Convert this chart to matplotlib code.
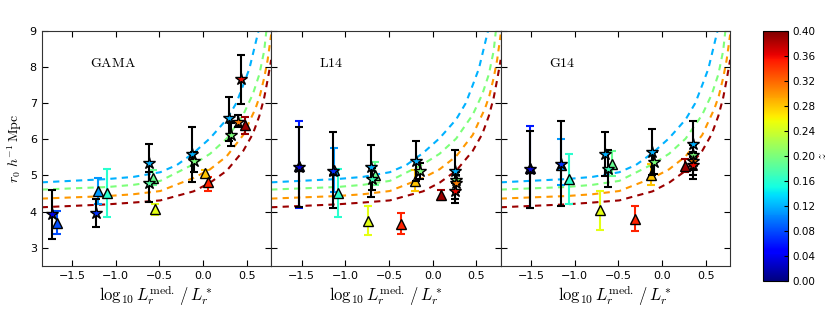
import numpy as np
import matplotlib
matplotlib.use("Agg")
import matplotlib.pyplot as plt
from matplotlib import cm, colors

plt.rcParams['mathtext.fontset'] = 'cm'
plt.rcParams['font.size'] = 8

# model curves, one per redshift
curve_z = [0.12, 0.20, 0.30, 0.39]
curve_x = [
    [-1.85, -1.1, -0.8, -0.49, -0.3, -0.11, 0.08, 0.27, 0.38, 0.46, 0.53, 0.59, 0.635],
    [-1.85, -1.1, -0.8, -0.49, -0.11, 0.08, 0.27, 0.46, 0.57, 0.645, 0.70, 0.725],
    [-1.85, -1.1, -0.8, -0.49, -0.11, 0.08, 0.27, 0.46, 0.6, 0.65, 0.7, 0.74, 0.78],
    [-1.85, -1.1, -0.8, -0.49, -0.11, 0.08, 0.27, 0.46, 0.57, 0.645, 0.70, 0.74, 0.78],
]
curve_y = [
    [4.81, 4.90, 4.96, 5.09, 5.29, 5.62, 6.03, 6.55, 7.0, 7.5, 7.95, 8.55, 9.0],
    [4.61, 4.68, 4.74, 4.85, 5.31, 5.60, 6.02, 6.68, 7.25, 7.80, 8.45, 9.0],
    [4.36, 4.43, 4.48, 4.57, 4.93, 5.17, 5.53, 6.12, 6.85, 7.2, 7.7, 8.2, 8.9],
    [4.12, 4.20, 4.25, 4.31, 4.56, 4.80, 5.13, 5.68, 6.15, 6.65, 7.15, 7.65, 8.2],
]

panel_names = ['GAMA', 'L14', 'G14']

# stars: x, y, lower, upper, z
star_x = [
    [-1.728, -1.223, -0.623, -0.623, -0.125, -0.099, 0.292, 0.322, 0.402, 0.440],
    [-1.528, -1.141, -0.708, -0.694, -0.189, -0.147, 0.260, 0.270, 0.265, 0.260],
    [-1.519, -1.155, -0.654, -0.615, -0.114, -0.091, 0.349, 0.355, 0.349, 0.349],
]
star_y = [
    [3.93, 3.96, 5.35, 4.79, 5.59, 5.39, 6.59, 6.12, 6.47, 7.67],
    [5.24, 5.13, 5.24, 4.91, 5.39, 5.13, 5.13, 4.88, 4.79, 4.57],
    [5.17, 5.33, 5.59, 5.19, 5.66, 5.36, 5.87, 5.57, 5.40, 5.28],
]
star_lo = [
    [3.25, 3.58, 4.80, 4.27, 4.83, 5.10, 5.94, 5.82, 6.33, 6.98],
    [4.13, 4.09, 4.41, 4.60, 4.85, 4.90, 4.24, 4.60, 4.55, 4.35],
    [4.11, 4.15, 4.98, 4.67, 5.02, 5.05, 4.91, 5.30, 5.15, 5.00],
]
star_hi = [
    [4.61, 4.34, 5.87, 5.10, 6.34, 5.65, 7.17, 6.45, 6.66, 8.34],
    [6.35, 6.21, 5.84, 5.20, 5.96, 5.35, 5.70, 5.10, 5.00, 4.80],
    [6.24, 6.51, 6.19, 5.70, 6.29, 5.65, 6.50, 5.85, 5.65, 5.50],
]
star_z = [
    [0.04, 0.07, 0.12, 0.18, 0.12, 0.20, 0.12, 0.20, 0.31, 0.36],
    [0.03, 0.07, 0.12, 0.17, 0.12, 0.20, 0.12, 0.20, 0.31, 0.36],
    [0.03, 0.07, 0.12, 0.17, 0.12, 0.20, 0.12, 0.20, 0.31, 0.36],
]

# triangles: x, y, lower, upper, z
tri_x = [
    [-1.679, -1.208, -1.101, -0.571, -0.551, 0.018, 0.052, 0.485],
    [-1.528, -1.130, -1.081, -0.656, -0.739, -0.363, -0.204, 0.100],
    [-1.519, -1.155, -1.071, -0.577, -0.711, -0.316, -0.125, 0.265],
]
tri_y = [
    [3.69, 4.57, 4.52, 4.92, 4.06, 5.06, 4.81, 6.39],
    [5.27, 5.15, 4.52, 5.01, 3.74, 3.67, 4.85, 4.46],
    [5.20, 5.30, 4.89, 5.33, 4.04, 3.79, 5.02, 5.27],
]
tri_lo = [
    [3.37, 4.22, 3.84, 4.73, 3.90, 4.95, 4.56, 6.14],
    [4.11, 4.55, 3.85, 4.73, 3.35, 3.39, 4.56, 4.32],
    [4.11, 4.73, 4.21, 4.98, 3.50, 3.47, 4.74, 5.09],
]
tri_hi = [
    [4.01, 4.94, 5.19, 5.15, 4.22, 5.15, 4.97, 6.63],
    [6.51, 5.75, 5.19, 5.38, 4.15, 3.95, 5.16, 4.60],
    [6.37, 6.00, 5.59, 5.68, 4.57, 4.15, 5.31, 5.45],
]
tri_z = [
    [0.08, 0.11, 0.16, 0.19, 0.25, 0.28, 0.35, 0.39],
    [0.06, 0.11, 0.16, 0.19, 0.25, 0.35, 0.28, 0.39],
    [0.06, 0.11, 0.16, 0.19, 0.25, 0.35, 0.28, 0.39],
]

cbar_ticks = [0.0, 0.04, 0.08, 0.12, 0.16, 0.2, 0.24, 0.28, 0.32, 0.36, 0.4]

cmap = matplotlib.colormaps['jet']
norm = colors.Normalize(vmin=0.0, vmax=0.4)

fig = plt.figure(figsize=(8.3, 3.12), dpi=100)
left, bottom, width, height = 0.0502, 0.148, 0.2765, 0.753

for i in range(3):
    ax = fig.add_axes([left + i * width, bottom, width, height])

    for cx, cy, cz in zip(curve_x, curve_y, curve_z):
        ax.plot(cx, cy, ls='--', dashes=(3, 2.5), lw=1.5, color=cmap(norm(cz)), zorder=1)

    # triangles with coloured error bars
    for x, y, lo, hi, z in zip(tri_x[i], tri_y[i], tri_lo[i], tri_hi[i], tri_z[i]):
        c = cmap(norm(z))
        ax.errorbar([x], [y], yerr=[[y - lo], [hi - y]], fmt='none', ecolor=c,
                    elinewidth=1.5, capsize=3, capthick=1.5, zorder=2)
        ax.plot([x], [y], marker='^', ms=6.5, mfc=c, mec='k', mew=1.0, ls='none', zorder=3)

    # stars with black error bars
    for x, y, lo, hi, z in zip(star_x[i], star_y[i], star_lo[i], star_hi[i], star_z[i]):
        c = cmap(norm(z))
        ax.errorbar([x], [y], yerr=[[y - lo], [hi - y]], fmt='none', ecolor='k',
                    elinewidth=1.5, capsize=3, capthick=1.5, zorder=4)
        ax.plot([x], [y], marker='*', ms=9, mfc=c, mec='k', mew=1.0, ls='none', zorder=5)

    ax.set_xlim(-1.85, 0.78)
    ax.set_ylim(2.5, 9)
    ax.set_xticks([-1.5, -1.0, -0.5, 0.0, 0.5])
    ax.set_yticks([3, 4, 5, 6, 7, 8, 9])
    ax.tick_params(direction='in', top=True, right=True, labelsize=8, length=4)
    if i > 0:
        ax.set_yticklabels([])
    else:
        ax.set_ylabel(r'$r_0\ h^{-1}\,\mathrm{Mpc}$', fontsize=10, labelpad=4)
    ax.set_xlabel(r'$\log_{10}L_r^{\mathrm{med.}}\,/\,L_r^*$', fontsize=12, labelpad=2)
    ax.text(0.21, 0.862, r'$\mathrm{%s}$' % panel_names[i], transform=ax.transAxes,
            fontsize=10, ha='left', va='center')
    for s in ax.spines.values():
        s.set_color('#333333')

cax = fig.add_axes([0.919, 0.100, 0.030, 0.800])
sm = cm.ScalarMappable(norm=norm, cmap=cmap)
cb = fig.colorbar(sm, cax=cax, ticks=cbar_ticks)
cb.ax.set_yticklabels(['%.2f' % t for t in cbar_ticks])
cb.ax.tick_params(labelsize=7.5, direction='in', length=3)
cax.text(2.15, 0.5, r'$z$', transform=cax.transAxes, fontsize=9,
         rotation=90, ha='left', va='center')

fig.savefig('out.png', dpi=100)
